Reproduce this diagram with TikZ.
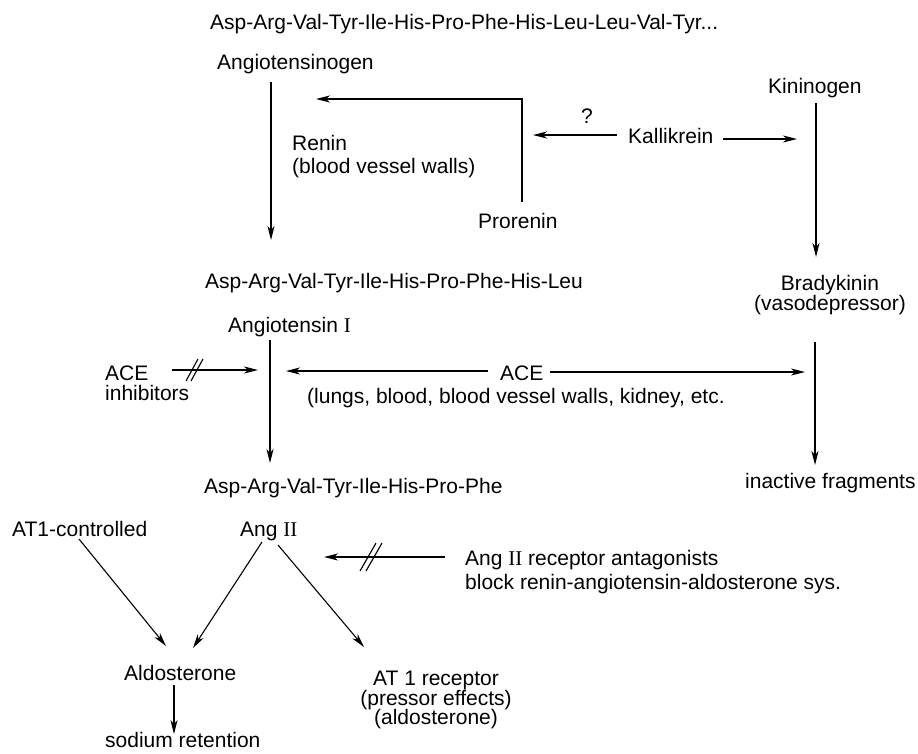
\documentclass[tikz,border=0pt]{standalone}
\usepackage{fontspec}
\setmainfont{Liberation Sans}
\newfontfamily\romnum{Liberation Serif}
\usetikzlibrary{arrows.meta,calc}
\begin{document}
\begin{tikzpicture}[x=1pt,y=-1pt,
  lbl/.style={inner sep=0pt, anchor=base west, font=\fontsize{21}{23}\selectfont},
  lblc/.style={inner sep=0pt, anchor=base, font=\fontsize{21}{23}\selectfont},
  ln/.style={line width=1.1pt},
  arr/.style={line width=1.1pt, -{Stealth[length=14pt,width=7pt,inset=4pt]}}]
\useasboundingbox (0,0) rectangle (918,753);

% texts
\node[lbl] (seqA) at (210,29) {Asp-Arg-Val-Tyr-Ile-His-Pro-Phe-His-Leu-Leu-Val-Tyr...};
\node[lbl] (angen) at (217,69) {Angiotensinogen};
\node[lbl] (renin) at (292,150) {Renin};
\node[lbl] (reninb) at (292,173) {(blood vessel walls)};
\node[lbl] (prorenin) at (478,228) {Prorenin};
\node[lblc] (q) at (587,123) {?};
\node[lbl] (kall) at (628,143) {Kallikrein};
\node[lbl] (kinin) at (768,93) {Kininogen};
\node[lbl] (seqB) at (205,288) {Asp-Arg-Val-Tyr-Ile-His-Pro-Phe-His-Leu};
\node[lbl] (ang1) at (228,332) {Angiotensin {\romnum I}};
\node[lblc] (brady) at (830,290) {Bradykinin};
\node[lblc] (bradyb) at (830,310) {(vasodepressor)};
\node[lbl] (acei) at (105,380) {ACE};
\node[lbl] (aceib) at (105,400) {inhibitors};
\node[lbl] (ace) at (500,380) {ACE};
\node[lbl] (aceb) at (307,403) {(lungs, blood, blood vessel walls, kidney, etc.};
\node[lbl] (inact) at (745,488) {inactive fragments};
\node[lbl] (seqC) at (204,493) {Asp-Arg-Val-Tyr-Ile-His-Pro-Phe};
\node[lbl] (at1c) at (12,536) {AT1-controlled};
\node[lbl] (ang2) at (240,536) {Ang {\romnum II}};
\node[lbl] (antag) at (465,565) {Ang {\romnum II} receptor antagonists};
\node[lbl] (antagb) at (465,589) {block renin-angiotensin-aldosterone sys.};
\node[lbl] (aldo) at (124,680) {Aldosterone};
\node[lblc] (at1r) at (436,685) {AT 1 receptor};
\node[lblc] (at1rb) at (436,705) {(pressor effects)};
\node[lblc] (at1rc) at (436,724) {(aldosterone)};
\node[lbl] (sodium) at (105,747) {sodium retention};

% connector end points
\coordinate (angenS) at (271,82);
\coordinate (angenE) at (271,240);
\coordinate (proN) at (522,202);
\coordinate (proC) at (522,99);
\coordinate (proE) at (316,99);
\coordinate (kallW) at (617,135);
\coordinate (kallWE) at (533,135);
\coordinate (kallE) at (723,139);
\coordinate (kallEE) at (797,139);
\coordinate (kininS) at (816,103);
\coordinate (kininE) at (816,257);
\coordinate (ang1S) at (270,340);
\coordinate (ang1E) at (270,463);
\coordinate (aceiS) at (172,370);
\coordinate (aceiE) at (258,370);
\coordinate (aceiX) at (195,370);
\coordinate (aceW) at (488,371);
\coordinate (aceWE) at (286,371);
\coordinate (aceE) at (550,372);
\coordinate (aceEE) at (805,372);
\coordinate (bradyS) at (815,342);
\coordinate (bradyE) at (815,465);
\coordinate (at1cS) at (79,539);
\coordinate (aldoNW) at (166,646);
\coordinate (ang2SW) at (262,542);
\coordinate (aldoNE) at (193,648);
\coordinate (ang2SE) at (278,545);
\coordinate (at1rN) at (364,647);
\coordinate (antagS) at (445,557);
\coordinate (antagE) at (324,557);
\coordinate (antagX) at (372,557);
\coordinate (aldoS) at (174,685);
\coordinate (sodiumN) at (174,734);

% connectors
\draw[arr] (angenS) -- (angenE);
\draw[arr] (proN) -- (proC) -- (proE);
\draw[arr] (kallW) -- (kallWE);
\draw[arr] (kallE) -- (kallEE);
\draw[arr] (kininS) -- (kininE);
\draw[arr] (ang1S) -- (ang1E);
\draw[arr] (aceiS) -- (aceiE);
\draw[ln] ($(aceiX)+(-9,11)$) -- ($(aceiX)+(3,-11)$);
\draw[ln] ($(aceiX)+(-4,11)$) -- ($(aceiX)+(8,-11)$);
\draw[arr] (aceW) -- (aceWE);
\draw[arr] (aceE) -- (aceEE);
\draw[arr] (bradyS) -- (bradyE);
\draw[arr] (at1cS) -- (aldoNW);
\draw[arr] (ang2SW) -- (aldoNE);
\draw[arr] (ang2SE) -- (at1rN);
\draw[arr] (antagS) -- (antagE);
\draw[ln] ($(antagX)+(-12,14)$) -- ($(antagX)+(4,-14)$);
\draw[ln] ($(antagX)+(-6,14)$) -- ($(antagX)+(10,-14)$);
\draw[arr] (aldoS) -- (sodiumN);
\end{tikzpicture}
\end{document}
